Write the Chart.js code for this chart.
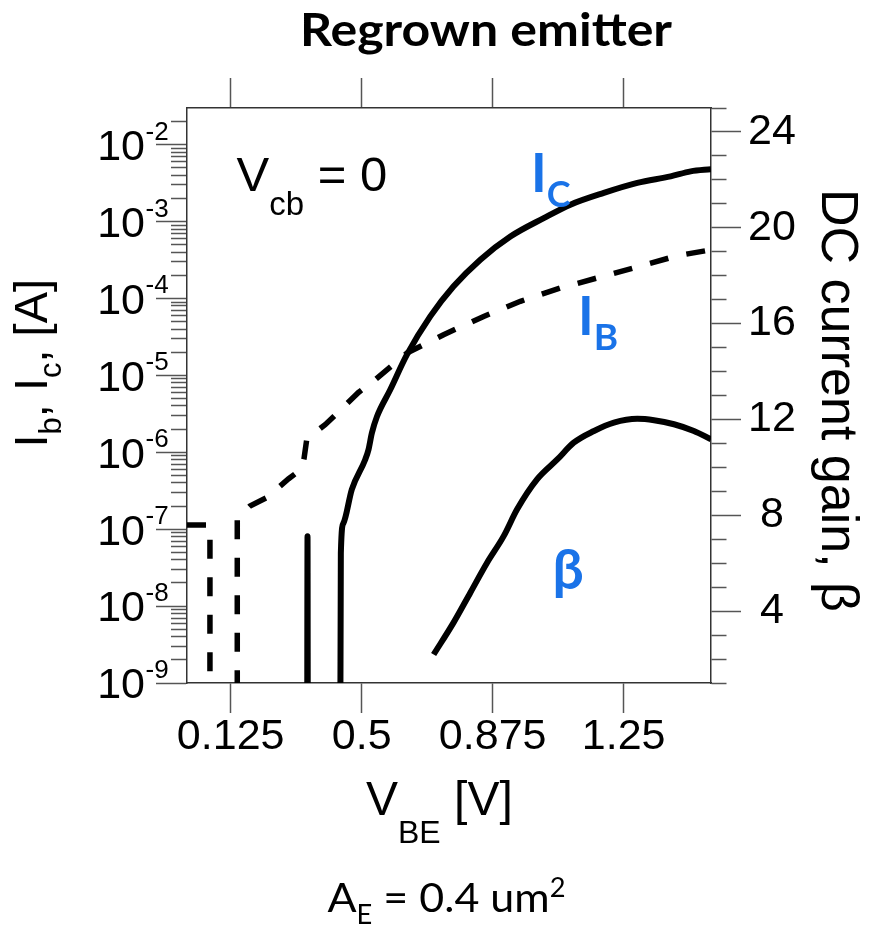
<!DOCTYPE html>
<html>
<head>
<meta charset="utf-8">
<script src="https://cdn.jsdelivr.net/npm/chart.js@4.4.1/dist/chart.umd.min.js"></script>
<style>
  html, body { margin: 0; padding: 0; background: #fff; }
  canvas { display: block; }
</style>
</head>
<body>
<canvas id="chart" width="869" height="925"></canvas>
<script>
// Readings under the 1e-9 A floor of the log axis (noise / reversed sign)
const OFF_SCALE = 7.5e-11;

// Collector current Ic [A] vs V_BE [V]
const vbeIc = [0.344, 0.345, 0.346, 0.4384, 0.4404, 0.4478, 0.4719, 0.510, 0.5195, 0.5292, 0.5436,
               0.5817, 0.6296, 0.6964, 0.7632, 0.8397, 0.9257, 1.0212, 1.0977, 1.1932, 1.289,
               1.3844, 1.4418, 1.50];
const icAmps = [OFF_SCALE, 8.1e-8, OFF_SCALE, OFF_SCALE, 4.9e-8, 1.2e-7, 3.3e-7, 8.0e-7, 1.08e-6, 1.78e-6, 2.9e-6,
                6.5e-6, 1.86e-5, 5.85e-5, 1.44e-4, 3.2e-4, 6.4e-4, 1.11e-3, 1.66e-3, 2.36e-3, 3.18e-3,
                3.87e-3, 4.5e-3, 4.8e-3];

// Base current Ib [A] vs V_BE [V]
const vbeIb = [0, 0.0657, 0.0657, 0.1439, 0.1439, 0.1803, 0.2299, 0.2901, 0.3286, 0.3352, 0.3429,
               0.3954, 0.4306, 0.4908, 0.5338, 0.6296, 0.7345, 0.8492, 0.9544, 1.0691, 1.1743,
               1.289, 1.4037, 1.50];
const ibAmps = [1.13e-7, 1.13e-7, OFF_SCALE, OFF_SCALE, 1.4e-7, 2.0e-7, 2.6e-7, 4.5e-7, 6.1e-7, 8.4e-7, 1.49e-6,
                2.29e-6, 3.25e-6, 6.0e-6, 8.4e-6, 1.95e-5, 3.38e-5, 5.85e-5, 9.2e-5, 1.37e-4, 1.85e-4,
                2.57e-4, 3.6e-4, 4.3e-4];

// DC current gain beta vs V_BE [V]
const vbeBeta = [0.706, 0.763, 0.811, 0.859, 0.9065, 0.945, 1.002, 1.060, 1.107, 1.165, 1.222,
                 1.289, 1.337, 1.394, 1.451, 1.50];
const betaGain = [2.19, 3.52, 4.77, 6.02, 7.13, 8.25, 9.50, 10.33, 11.03, 11.52, 11.87,
                  12.03, 11.97, 11.80, 11.52, 11.17];

// Axis ticks
const vbeTickValues = [0.125, 0.5, 0.875, 1.25];
const vbeTickLabels = ['0.125', '0.5', '0.875', '1.25'];
const currentDecades = [-9, -8, -7, -6, -5, -4, -3, -2];
const gainTickLabels = [4, 8, 12, 16, 20, 24];

const AX_FONT = '"Liberation Sans", Arial, sans-serif';
const CAL_FONT = 'Lato, "Noto Sans", sans-serif';
const BLUE = '#1a73e8';
const TICK_COLOR = '#555';
const FRAME_COLOR = '#333';

const toPoints = (xs, ys) => xs.map((x, i) => ({ x: x, y: ys[i] }));
const isDecade = v => Math.abs(Math.log10(v) - Math.round(Math.log10(v))) < 1e-6;

// Draws a run of text pieces left to right, each with its own font and baseline shift
function drawRun(ctx, x, y, parts) {
  ctx.textAlign = 'left';
  ctx.textBaseline = 'alphabetic';
  for (const p of parts) {
    ctx.font = p.font;
    ctx.fillStyle = p.color || '#000';
    ctx.fillText(p.text, x, y + (p.dy || 0));
    x += ctx.measureText(p.text).width;
  }
}

// Same as drawRun, squeezed or stretched horizontally to span a given width
function drawRunFit(ctx, x, y, width, parts) {
  let total = 0;
  for (const p of parts) { ctx.font = p.font; total += ctx.measureText(p.text).width; }
  ctx.save();
  ctx.translate(x, y);
  ctx.scale(width / total, 1);
  drawRun(ctx, 0, 0, parts);
  ctx.restore();
}

const annotations = {
  id: 'annotations',
  afterDraw(chart) {
    const ctx = chart.ctx;
    const yScale = chart.scales.y;
    ctx.save();

    // Title
    drawRunFit(ctx, 300, 46, 372, [
      { text: 'Regrown emitter', font: 'bold 45px ' + CAL_FONT }
    ]);

    // Decade labels of the current axis: 10 with a raised exponent
    for (const e of currentDecades) {
      const py = yScale.getPixelForValue(Math.pow(10, e));
      ctx.fillStyle = '#000';
      ctx.font = '43px ' + AX_FONT;
      ctx.textAlign = 'right';
      ctx.textBaseline = 'alphabetic';
      ctx.fillText('10', 145, py + 15.4);
      ctx.font = '26px ' + AX_FONT;
      ctx.textAlign = 'left';
      ctx.fillText(String(e), 145.5, py - 5);
    }

    // Bias condition
    drawRun(ctx, 236.5, 191, [
      { text: 'V', font: '49px ' + AX_FONT },
      { text: 'cb', font: '33px ' + AX_FONT, dy: 24 },
      { text: ' = 0', font: '49px ' + AX_FONT }
    ]);

    // Curve labels
    drawRun(ctx, 531, 192, [
      { text: 'I', font: 'bold 53px ' + CAL_FONT, color: BLUE },
      { text: 'C', font: 'bold 36px ' + CAL_FONT, color: BLUE, dy: 15 }
    ]);
    drawRun(ctx, 578, 335, [
      { text: 'I', font: 'bold 53px ' + CAL_FONT, color: BLUE },
      { text: 'B', font: 'bold 37px ' + CAL_FONT, color: BLUE, dy: 15 }
    ]);
    ctx.fillStyle = BLUE;
    ctx.font = 'bold 55px ' + CAL_FONT;
    ctx.textAlign = 'center';
    ctx.fillText('\u03B2', 568, 589);

    // X axis title
    drawRun(ctx, 366, 815, [
      { text: 'V', font: '48px ' + AX_FONT },
      { text: 'BE', font: '32px ' + AX_FONT, dy: 28 },
      { text: ' [V]', font: '48px ' + AX_FONT }
    ]);

    // Left axis title (reads bottom to top)
    ctx.save();
    ctx.translate(47, 447.5);
    ctx.rotate(-Math.PI / 2);
    drawRun(ctx, 0, 0, [
      { text: 'I', font: '47px ' + AX_FONT },
      { text: 'b', font: '31px ' + AX_FONT, dy: 14 },
      { text: ', I', font: '47px ' + AX_FONT },
      { text: 'c', font: '31px ' + AX_FONT, dy: 14 },
      { text: ', [A]', font: '47px ' + AX_FONT }
    ]);
    ctx.restore();

    // Right axis title (reads top to bottom)
    ctx.save();
    ctx.translate(822, 189);
    ctx.rotate(Math.PI / 2);
    drawRun(ctx, 0, 0, [
      { text: 'DC current gain, \u03B2', font: '52px ' + AX_FONT }
    ]);
    ctx.restore();

    // Emitter area note
    drawRunFit(ctx, 327.5, 912, 238, [
      { text: 'A', font: '41px ' + CAL_FONT },
      { text: 'E', font: '26px ' + CAL_FONT, dy: 12 },
      { text: ' = 0.4 um', font: '41px ' + CAL_FONT },
      { text: '2', font: '26px ' + CAL_FONT, dy: -15 }
    ]);

    ctx.restore();
  }
};

const commonGrid = {
  drawOnChartArea: false,
  drawTicks: true,
  tickColor: TICK_COLOR,
  tickWidth: 1.5
};
const commonBorder = { display: true, color: FRAME_COLOR, width: 1.5 };

function buildChart() {
  const ctx = document.getElementById('chart').getContext('2d');
  new Chart(ctx, {
    type: 'line',
    data: {
      datasets: [
        {
          label: 'Ib',
          data: toPoints(vbeIb, ibAmps),
          yAxisID: 'y',
          borderColor: '#000',
          borderWidth: 5.5,
          borderDash: [19, 18.5],
          pointRadius: 0,
          tension: 0,
          clip: 0
        },
        {
          label: 'Ic',
          data: toPoints(vbeIc, icAmps),
          yAxisID: 'y',
          borderColor: '#000',
          borderWidth: 6,
          borderJoinStyle: 'bevel',
          cubicInterpolationMode: 'monotone',
          pointRadius: 0,
          clip: 0
        },
        {
          label: 'beta',
          data: toPoints(vbeBeta, betaGain),
          yAxisID: 'y1',
          borderColor: '#000',
          borderWidth: 6,
          cubicInterpolationMode: 'monotone',
          pointRadius: 0,
          clip: 0
        }
      ]
    },
    options: {
      responsive: false,
      animation: false,
      devicePixelRatio: 1,
      events: [],
      layout: { padding: { top: 78, bottom: 122, left: 0, right: 0 } },
      plugins: {
        legend: { display: false },
        tooltip: { enabled: false },
        title: { display: false }
      },
      scales: {
        x: {
          type: 'linear',
          position: 'bottom',
          min: 0,
          max: 1.5,
          afterBuildTicks: s => { s.ticks = vbeTickValues.map(v => ({ value: v })); },
          afterFit: s => { s.height = 120; },
          grid: Object.assign({}, commonGrid, { tickLength: 30 }),
          border: commonBorder,
          ticks: {
            autoSkip: false,
            maxRotation: 0,
            padding: -2,
            color: '#000',
            font: { family: AX_FONT, size: 43 },
            callback: v => vbeTickLabels[vbeTickValues.indexOf(v)]
          }
        },
        x2: {
          type: 'linear',
          position: 'top',
          min: 0,
          max: 1.5,
          afterBuildTicks: s => { s.ticks = vbeTickValues.map(v => ({ value: v })); },
          afterFit: s => { s.height = 30; },
          grid: Object.assign({}, commonGrid, { tickLength: 30 }),
          border: commonBorder,
          ticks: { display: false, autoSkip: false }
        },
        y: {
          type: 'logarithmic',
          position: 'left',
          min: 1e-9,
          max: 0.03,
          afterBuildTicks: s => {
            const t = [];
            for (const e of currentDecades) {
              for (let n = 1; n <= 9; n++) {
                const v = n * Math.pow(10, e);
                if (v < 0.029) t.push({ value: v });
              }
            }
            s.ticks = t;
          },
          afterFit: s => { s.width = 187; },
          grid: Object.assign({}, commonGrid, {
            tickLength: 31,
            tickBorderDash: c => (c.tick && !isDecade(c.tick.value)) ? [0, 15, 16, 100] : []
          }),
          border: commonBorder,
          ticks: { display: false, autoSkip: false }
        },
        y1: {
          type: 'linear',
          position: 'right',
          min: 1,
          max: 25,
          afterBuildTicks: s => {
            const t = [];
            for (let v = 1; v <= 25; v++) t.push({ value: v });
            s.ticks = t;
          },
          afterFit: s => { s.width = 158; },
          grid: Object.assign({}, commonGrid, {
            tickLength: 30,
            tickBorderDash: c => (c.tick && gainTickLabels.indexOf(c.tick.value) < 0) ? [15, 100] : []
          }),
          border: commonBorder,
          ticks: {
            autoSkip: false,
            crossAlign: 'center',
            padding: 7,
            color: '#000',
            font: { family: AX_FONT, size: 43 },
            callback: v => gainTickLabels.indexOf(v) >= 0 ? String(v) : ''
          }
        }
      }
    },
    plugins: [annotations]
  });
}

const fontLoads = [
  'bold 45px Lato', '40px Lato', '43px "Liberation Sans"', 'bold 55px "Noto Sans"'
].map(f => document.fonts.load(f).catch(() => null));
Promise.all(fontLoads).then(buildChart, buildChart);
</script>
</body>
</html>
